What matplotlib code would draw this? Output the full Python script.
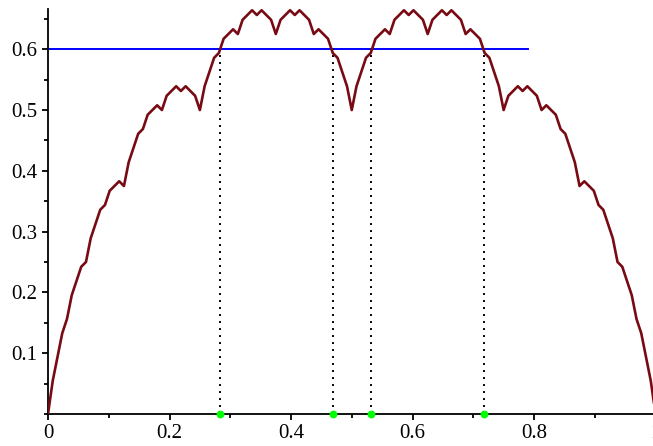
import numpy as np
import matplotlib
matplotlib.use("Agg")
import matplotlib.pyplot as plt
from matplotlib.ticker import MultipleLocator

# Curve values (y) sampled at 129 evenly spaced x positions on [0, 1]
curve_y = [
    0, .0547, .0938, .1328, .1563, .1953, .2188, .2422, .25,
    .2891, .3125, .3359, .3438, .3672, .375, .3828, .375,
    .4141, .4375, .4609, .4688, .4922, .5, .5078, .5,
    .5234, .5313, .5391, .5313, .5391, .5313, .5234, .5,
    .5391, .5625, .5859, .5938, .6172, .625, .6328, .625,
    .6484, .6563, .6641, .6563, .6641, .6563, .6484, .625,
    .6484, .6563, .6641, .6563, .6641, .6563, .6484, .625,
    .6328, .625, .6172, .5938, .5859, .5625, .5391, .5,
    .5391, .5625, .5859, .5938, .6172, .625, .6328, .625,
    .6484, .6563, .6641, .6563, .6641, .6563, .6484, .625,
    .6484, .6563, .6641, .6563, .6641, .6563, .6484, .625,
    .6328, .625, .6172, .5938, .5859, .5625, .5391, .5,
    .5234, .5313, .5391, .5313, .5391, .5313, .5234, .5,
    .5078, .5, .4922, .4688, .4609, .4375, .4141, .375,
    .3828, .375, .3672, .3438, .3359, .3125, .2891, .25,
    .2422, .2188, .1953, .1563, .1328, .0938, .0547, 0,
]
curve_x = np.linspace(0, 1, len(curve_y))

level = 0.6
level_x_range = [0.0, 0.79]
crossings = [0.2826, 0.4686, 0.5314, 0.7174]

xticks = [0, 0.2, 0.4, 0.6, 0.8, 1]
xtick_labels = ["0", "0.2", "0.4", "0.6", "0.8", "1"]
yticks = [0.1, 0.2, 0.3, 0.4, 0.5, 0.6]
ytick_labels = ["0.1", "0.2", "0.3", "0.4", "0.5", "0.6"]

plt.rcParams['font.family'] = ['Liberation Serif', 'DejaVu Serif']

W, H = 653, 446
fig = plt.figure(figsize=(W / 100, H / 100), dpi=100)
left_px, right_px = 48, 655.5
bottom_px, top_px = 414, 8.7
ax = fig.add_axes([left_px / W, 1 - bottom_px / H,
                   (right_px - left_px) / W, (bottom_px - top_px) / H])

ax.plot(curve_x, curve_y, color='#780a14', lw=1.9, zorder=3,
        solid_joinstyle='round', solid_capstyle='round')
ax.plot(level_x_range, [level, level], color='#0000ff', lw=1.4, zorder=2)
for cx in crossings:
    ax.plot([cx, cx], [0, level], color='black', lw=1.4,
            linestyle=(0, (1, 2.6)), zorder=2)
ax.scatter(crossings, [0] * len(crossings), s=32, color='#00ff00',
           zorder=5, clip_on=False, linewidths=0)

ax.set_xlim(0, 1)
ax.set_ylim(0, 2 / 3)
for s in ['top', 'right']:
    ax.spines[s].set_visible(False)
for s in ['left', 'bottom']:
    ax.spines[s].set_linewidth(1.3)

ax.set_xticks(xticks)
ax.set_xticklabels(xtick_labels)
ax.set_yticks(yticks)
ax.set_yticklabels(ytick_labels)
ax.xaxis.set_minor_locator(MultipleLocator(0.1))
ax.yaxis.set_minor_locator(MultipleLocator(0.05))
ax.tick_params(which='major', length=4, width=1.3, labelsize=15, direction='out')
ax.tick_params(which='minor', length=3, width=1.3, direction='out')
ax.tick_params(axis='y', pad=4)
ax.tick_params(axis='x', pad=3)

fig.savefig('out.png', dpi=100)
